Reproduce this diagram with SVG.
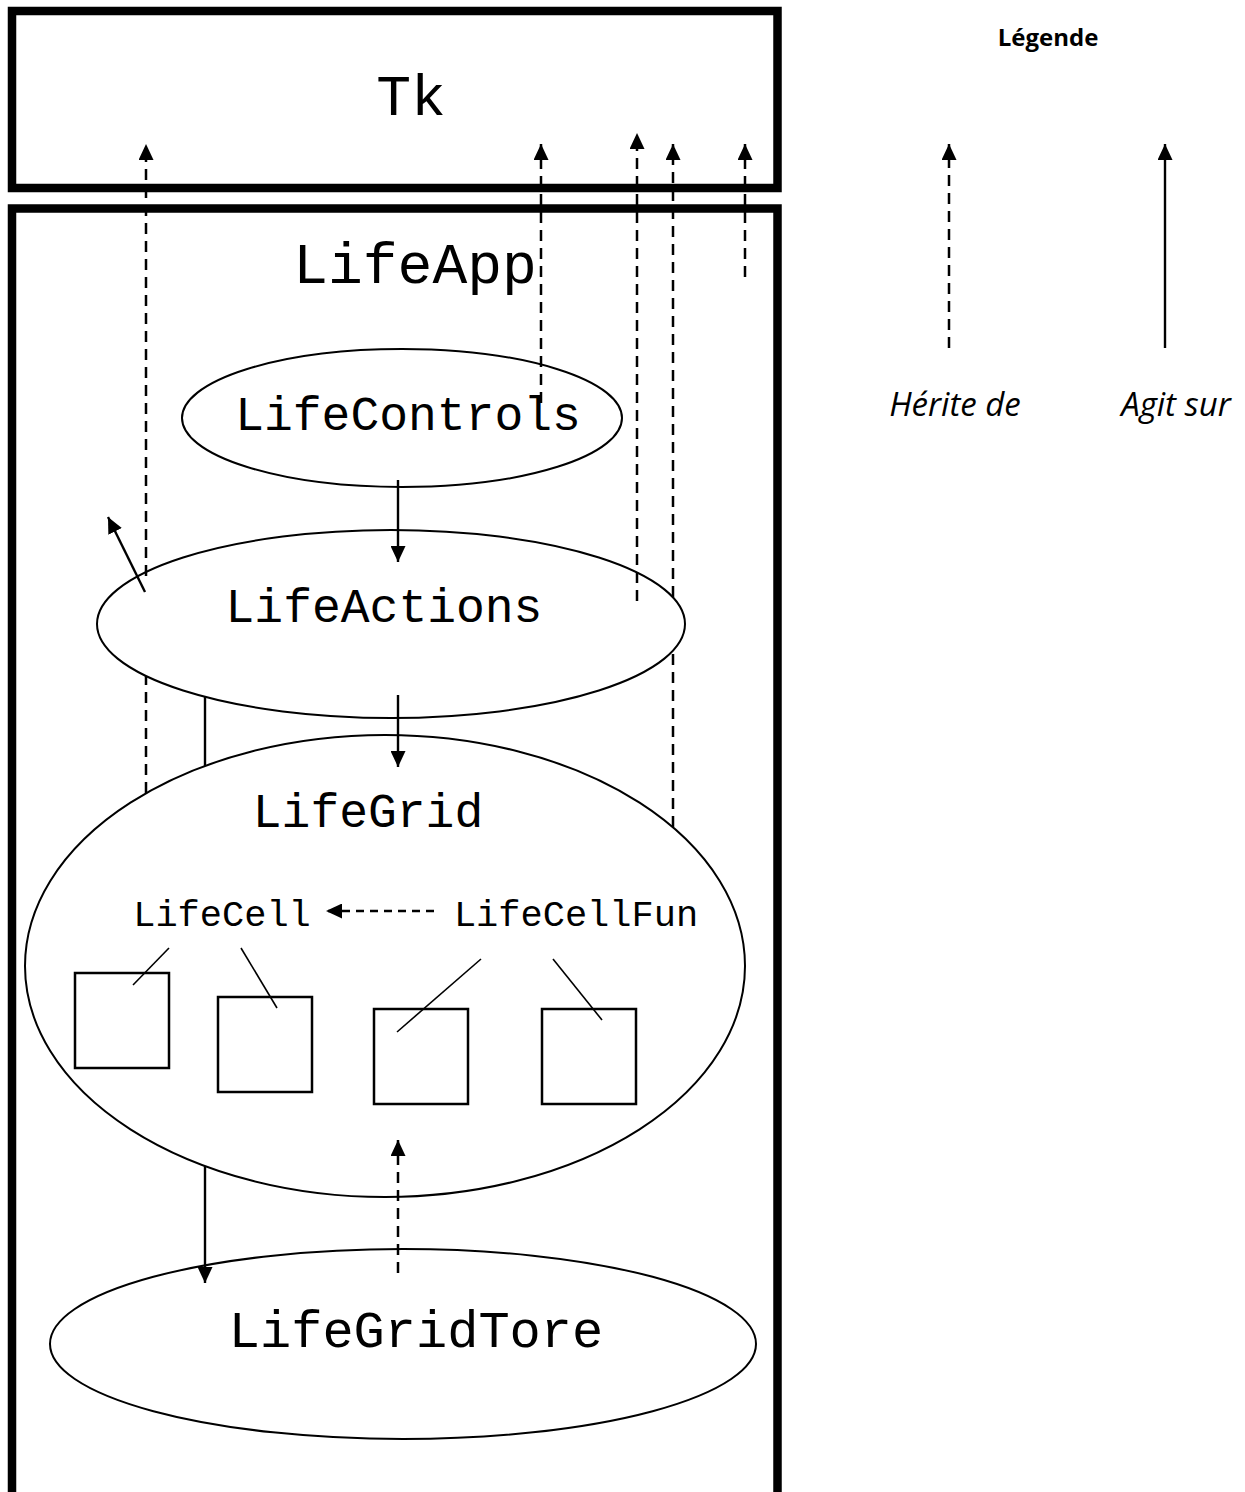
<svg xmlns="http://www.w3.org/2000/svg" width="1245" height="1492" viewBox="0 0 1245 1492">
<style>
.box{fill:none;stroke:#000;stroke-width:8.5}
.ell{fill:#fff;stroke:#000;stroke-width:2}
.cell{fill:#fff;stroke:#000;stroke-width:2.5}
.mono{font-family:"Liberation Mono","Courier New",monospace;fill:#000}
.dash{fill:none;stroke:#000;stroke-width:2.5;stroke-dasharray:11 7}
.dash2{fill:none;stroke:#000;stroke-width:2.5;stroke-dasharray:8 6}
.solid{fill:none;stroke:#000;stroke-width:2.4}
.thin{fill:none;stroke:#000;stroke-width:1.6}
.leg{font-family:"Open Sans","Liberation Sans",sans-serif;fill:#000}
</style>
<defs>
<marker id="ah" viewBox="0 0 16 15" refX="16" refY="7.5" markerWidth="16" markerHeight="15" markerUnits="userSpaceOnUse" orient="auto">
<path d="M0,0 L16,7.5 L0,15 z" fill="#000"/>
</marker>
</defs>
<rect width="1245" height="1492" fill="#fff"/>

<g id="tk">
<rect class="box" x="12" y="11" width="765.5" height="177"/>
<text class="mono" x="411" y="115" font-size="58" text-anchor="middle">Tk</text>
</g>

<g id="lifeapp">
<rect class="box" x="12" y="208.5" width="765.5" height="1400"/>
<text class="mono" x="415" y="283" font-size="58" text-anchor="middle">LifeApp</text>
</g>

<g id="lifecontrols">
<ellipse class="ell" cx="402" cy="418" rx="220" ry="69"/>
<text class="mono" x="408" y="430" font-size="48" text-anchor="middle">LifeControls</text>
</g>

<g id="lifeactions">
<ellipse class="ell" cx="391" cy="624" rx="294" ry="94"/>
<text class="mono" x="384" y="622" font-size="48" text-anchor="middle">LifeActions</text>
</g>

<g id="lifegrid">
<ellipse class="ell" cx="385" cy="966" rx="360" ry="231"/>
<text class="mono" x="368" y="827" font-size="48" text-anchor="middle">LifeGrid</text>
</g>

<g id="lifecell">
<text class="mono" x="222" y="926" font-size="37" text-anchor="middle">LifeCell</text>
</g>
<g id="lifecellfun">
<text class="mono" x="576" y="926" font-size="37" text-anchor="middle">LifeCellFun</text>
</g>

<g id="cell1"><rect class="cell" x="75" y="973" width="94" height="95"/></g>
<g id="cell2"><rect class="cell" x="218" y="997" width="94" height="95"/></g>
<g id="cell3"><rect class="cell" x="374" y="1009" width="94" height="95"/></g>
<g id="cell4"><rect class="cell" x="542" y="1009" width="94" height="95"/></g>

<g id="lifegridtore">
<ellipse class="ell" cx="403" cy="1344" rx="353" ry="95"/>
<text class="mono" x="416" y="1347" font-size="52" text-anchor="middle">LifeGridTore</text>
</g>

<g id="connectors">
<line class="dash" x1="146" y1="793" x2="146" y2="676"/>
<line class="dash" x1="146" y1="576" x2="146" y2="144" marker-end="url(#ah)"/>
<line class="dash" x1="541" y1="403" x2="541" y2="144" marker-end="url(#ah)"/>
<line class="dash" x1="637" y1="601" x2="637" y2="133" marker-end="url(#ah)"/>
<line class="dash" x1="673" y1="827" x2="673" y2="651"/>
<line class="dash" x1="673" y1="597" x2="673" y2="144" marker-end="url(#ah)"/>
<line class="dash" x1="745" y1="277" x2="745" y2="144" marker-end="url(#ah)"/>
<line class="solid" x1="398" y1="480" x2="398" y2="562" marker-end="url(#ah)"/>
<line class="solid" x1="398" y1="695" x2="398" y2="767" marker-end="url(#ah)"/>
<line class="solid" x1="145" y1="592" x2="108" y2="517" marker-end="url(#ah)"/>
<line class="solid" x1="205" y1="697" x2="205" y2="766"/>
<line class="solid" x1="205" y1="1166" x2="205" y2="1283" marker-end="url(#ah)"/>
<line class="dash" x1="398" y1="1273" x2="398" y2="1140" marker-end="url(#ah)"/>
<line class="dash2" x1="434" y1="911" x2="326" y2="911" marker-end="url(#ah)"/>
<line class="thin" x1="169" y1="948" x2="133" y2="985"/>
<line class="thin" x1="241" y1="948" x2="277" y2="1008"/>
<line class="thin" x1="481" y1="959" x2="397" y2="1032"/>
<line class="thin" x1="553" y1="959" x2="602" y2="1020"/>
</g>

<g id="legend">
<text class="leg" x="1048" y="46" font-size="24" font-weight="bold" text-anchor="middle">Légende</text>
<line class="dash" x1="949" y1="348" x2="949" y2="144" marker-end="url(#ah)"/>
<line class="solid" x1="1165" y1="348" x2="1165" y2="144" marker-end="url(#ah)"/>
<text class="leg" x="955" y="416" font-size="33" font-style="italic" text-anchor="middle">Hérite de</text>
<text class="leg" x="1176" y="416" font-size="33" font-style="italic" text-anchor="middle">Agit sur</text>
</g>
</svg>
